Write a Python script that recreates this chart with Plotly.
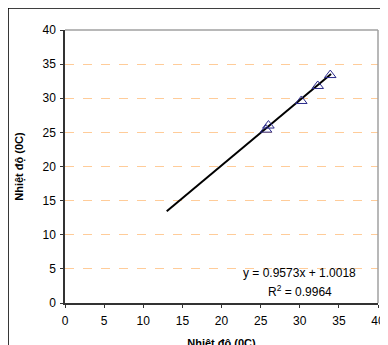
import plotly.graph_objects as go

# Data
x_points = [25.7, 26.0, 30.2, 32.3, 33.9]
y_points = [25.4, 26.0, 29.6, 31.8, 33.4]
slope = 0.9573
intercept = 1.0018
line_x = [13.0, 34.0]
line_y = [slope * v + intercept for v in line_x]
eq_text = "y = 0.9573x + 1.0018"
r2_text = "R<sup>2</sup> = 0.9964"
x_ticks = [0, 5, 10, 15, 20, 25, 30, 35, 40]
y_ticks = [0, 5, 10, 15, 20, 25, 30, 35, 40]
axis_title = "Nhiệt độ (0C)"

font_family = "Liberation Sans, Arial, sans-serif"

fig = go.Figure()
fig.add_trace(go.Scatter(
    x=line_x, y=line_y, mode="lines",
    line=dict(color="black", width=2), showlegend=False, hoverinfo="skip"))
fig.add_trace(go.Scatter(
    x=x_points, y=y_points, mode="markers",
    marker=dict(symbol="triangle-up-open", size=10, color="#2a2a8a",
                line=dict(width=1, color="#2a2a8a")),
    showlegend=False))

fig.update_layout(
    width=388, height=345,
    margin=dict(l=57, r=18, t=22, b=50, autoexpand=False),
    paper_bgcolor="white", plot_bgcolor="white",
    font=dict(family=font_family, size=12, color="black"),
    xaxis=dict(range=[0, 40], tickvals=x_ticks, showgrid=False, zeroline=False,
               showline=True, linecolor="#333333", linewidth=1.5,
               ticks="outside", ticklen=3, tickcolor="#333333",
               ticklabelstandoff=3,
               mirror=False, fixedrange=True, automargin=False,
               title=dict(text="<b>" + axis_title + "</b>", font=dict(size=11), standoff=12)),
    yaxis=dict(range=[0, 40], tickvals=y_ticks, showgrid=True,
               gridcolor="#FFCC99", griddash="dash", gridwidth=1, zeroline=False,
               showline=True, linecolor="#333333", linewidth=1.5,
               ticks="outside", ticklen=3, tickcolor="#333333", fixedrange=True,
               ticklabelstandoff=2,
               automargin=False,
               title=dict(text="<b>" + axis_title + "</b>", font=dict(size=11), standoff=17)),
    shapes=[
        # plot-area top and right borders (gray)
        dict(type="line", xref="paper", yref="paper", x0=0, y0=1, x1=1, y1=1,
             line=dict(color="#A0A0A0", width=1.5)),
        dict(type="line", xref="paper", yref="paper", x0=1, y0=0, x1=1, y1=1,
             line=dict(color="#A0A0A0", width=1.5)),
        # outer chart border
        dict(type="rect", xref="paper", yref="paper", x0=-0.182, y0=-0.3, x1=1.1, y1=1.0806,
             line=dict(color="black", width=1.5), layer="below"),
    ],
    annotations=[
        dict(text=eq_text, x=30.0, y=4.4, xref="x", yref="y", showarrow=False,
             font=dict(size=12), xanchor="center", yanchor="middle"),
        dict(text=r2_text, x=30.0, y=1.8, xref="x", yref="y", showarrow=False,
             font=dict(size=12), xanchor="center", yanchor="middle"),
    ],
)

fig.write_html("out.html")
